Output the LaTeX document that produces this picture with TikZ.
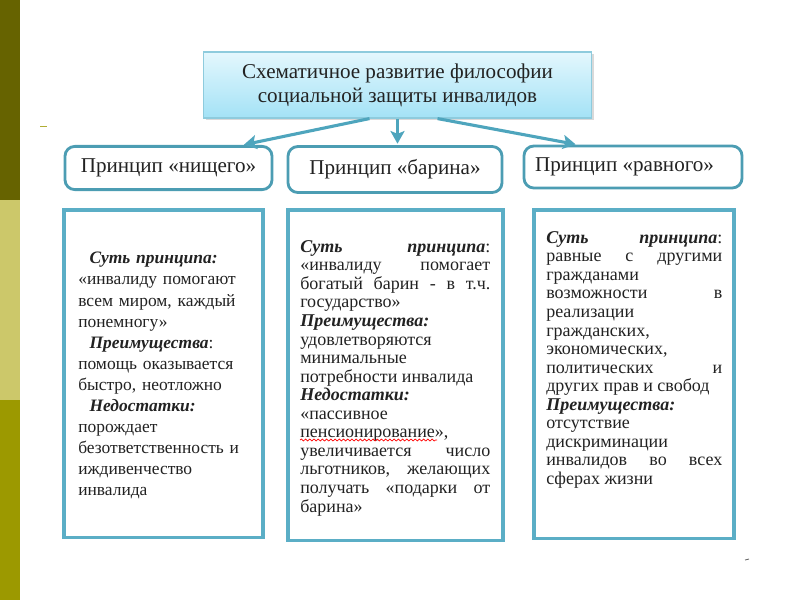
\documentclass[tikz,border=0pt]{standalone}
\usepackage{fontspec}
\setmainfont{Liberation Serif}
\usetikzlibrary{arrows.meta,shadows,decorations.pathmorphing}

\definecolor{stripdark}{HTML}{666300}
\definecolor{striplight}{HTML}{CCC86A}
\definecolor{stripmid}{HTML}{9C9900}
\definecolor{boxblue}{HTML}{5BAEC6}
\definecolor{headblue}{HTML}{4C9DB3}
\definecolor{arrowblue}{HTML}{4EA5BD}
\definecolor{titletop}{HTML}{E4F7FD}
\definecolor{titlebot}{HTML}{A3E2F6}
\definecolor{titleline}{HTML}{8ECBDD}
\definecolor{inktext}{HTML}{222222}

\newcommand{\bi}[1]{\textbf{\textit{#1}}}
\newcommand{\loosebreaks}{\tolerance=10000 \hyphenpenalty=10000 }

\tikzset{
  titlebox/.style={draw=titleline, line width=0.8pt, top color=titletop, bottom color=titlebot,
    minimum width=9.7cm, minimum height=1.65cm, align=center, font=\fontsize{15}{17}\selectfont,
    drop shadow={opacity=0.3, shadow xshift=1.5pt, shadow yshift=-1.5pt}},
  headbox/.style={draw=headblue, line width=2pt, rounded corners=7pt, fill=white,
    minimum height=1.08cm, font=\fontsize{15}{17}\selectfont},
  bodybox/.style={draw=boxblue, line width=2.2pt, fill=white},
  bodytext/.style={anchor=north west, inner sep=0pt, align=justify,
    font=\fontsize{12.8}{13.2}\selectfont},
  flow/.style={-{Stealth[length=9pt, width=10pt, inset=2pt]}, line width=2.2pt, draw=arrowblue, shorten >=1pt}
}

\begin{document}
\begin{tikzpicture}[x=0.025cm, y=-0.025cm, every node/.style={text=inktext}]
\useasboundingbox (0,0) rectangle (800,600);

% side strip
\fill[stripdark] (0,0) rectangle (20,200);
\fill[striplight] (0,200) rectangle (20,400);
\fill[stripmid] (0,400) rectangle (20,600);
\draw[stripmid!80, line width=1.2pt] (40,126.5) -- (47,126.5);
\draw[black!60, line width=0.6pt] (745,560) -- (749,559);

% title
\node[titlebox] (title) at (397.5,85) {Схематичное развитие философии\\социальной защиты инвалидов};

% principles
\node[headbox, minimum width=5.175cm] (nishiy) at (168.5,168) {Принцип «нищего»};
\node[headbox, minimum width=5.35cm, minimum height=1.15cm] (barin) at (395,169.5) {Принцип «барина»};
\node[headbox, minimum width=5.45cm, minimum height=1.05cm] (ravniy) at (633,167) {Принцип «равного»\hspace*{12pt}};

\draw[flow] ([xshift=-0.7cm]title.south) -- ([xshift=1.85cm]nishiy.north);
\draw[flow] (title.south) -- (title.south |- barin.north);
\draw[flow] ([xshift=1cm]title.south) -- ([xshift=-1.4cm]ravniy.north);

% content boxes
\node[bodybox, minimum width=4.975cm, minimum height=8.175cm] (nishiybox) at (163.5,373.5) {};
\node[bodybox, minimum width=5.375cm, minimum height=8.25cm] (barinbox) at (395.5,375) {};
\node[bodybox, minimum width=5cm, minimum height=8.2cm] (ravniybox) at (634,374) {};

% texts
\node[bodytext, align=left, text width=4.6cm, font=\fontsize{12.4}{15}\selectfont] (nishiytext) at (78,252) {%
\hspace*{8pt}\bi{Суть принципа:}\\
«инвалиду помогают\\
всем миром, каждый\\
понемногу»\\
\hspace*{8pt}\bi{Преимущества}:\\
помощь оказывается\\
быстро, неотложно\\
\hspace*{8pt}\bi{Недостатки:}\\
порождает\\
безответственность и\\
иждивенчество\\
инвалида};

\node[bodytext, text width=4.75cm] (barintext) at (300,240) {\loosebreaks
\bi{Суть} \bi{принципа}:\linebreak
«инвалиду помогает\linebreak
богатый барин - в т.ч.\linebreak
государство»\\
\bi{Преимущества:}\\
удовлетворяются\linebreak
минимальные\linebreak
потребности инвалида\\
\bi{Недостатки:}\\
«пассивное\linebreak
пенсионирование»,\linebreak
увеличивается число\linebreak
льготников, желающих\linebreak
получать «подарки от\linebreak
барина»};

\node[bodytext, text width=4.4cm] (ravniytext) at (546,231) {\loosebreaks
\bi{Суть} \bi{принципа}:\linebreak
равные с другими\linebreak
гражданами\linebreak
возможности в\linebreak
реализации\linebreak
гражданских,\linebreak
экономических,\linebreak
политических и\linebreak
других прав и свобод\\
\bi{Преимущества:}\\
отсутствие\linebreak
дискриминации\linebreak
инвалидов во всех\linebreak
сферах жизни};

% spelling mark
\draw[red, line width=0.5pt, decorate, decoration={snake, amplitude=0.7pt, segment length=3pt}] (300,440) -- (437,440);

\end{tikzpicture}
\end{document}
